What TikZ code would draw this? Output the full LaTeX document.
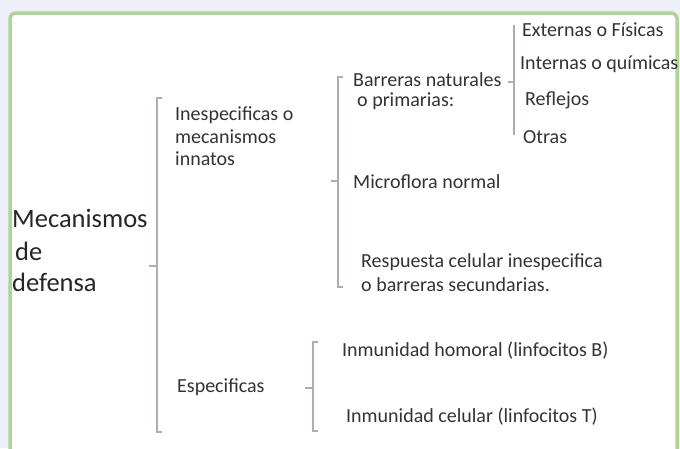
\documentclass[tikz,border=0pt]{standalone}
\usepackage{fontspec}
\setmainfont{Carlito}
\definecolor{bgl}{HTML}{EEF0F9}
\definecolor{grn}{HTML}{AED596}
\definecolor{txt}{HTML}{333333}
\definecolor{brkc}{HTML}{A8AFB8}
\begin{document}
\begin{tikzpicture}[x=1pt,y=-1pt,
  lbl/.style={anchor=west,inner sep=0pt,text=txt,font=\fontsize{20}{23}\selectfont,align=left},
  big/.style={anchor=west,inner sep=0pt,text=black!85,font=\fontsize{26.5}{32}\selectfont,align=left},
  brk/.style={draw=brkc,line width=1.2pt}]
\useasboundingbox (0,0) rectangle (680,448);
\fill[bgl] (0,0) rectangle (680,448);
\fill[white,rounded corners=6pt] (10,13) rectangle (677,452);
\draw[grn,line width=3.5pt,rounded corners=6pt] (10,452) -- (10,13) -- (677,13) -- (677,452);

% texts
\node[big] (mec) at (12,218) {Mecanismos};
\node[big] (de) at (15,251) {de};
\node[big] (def) at (12,282) {defensa};

\node[lbl] (ines) at (175,115) {Inespecificas o};
\node[lbl] (ines2) at (175,137) {mecanismos};
\node[lbl] (ines3) at (175,159) {innatos};
\node[lbl] (esp) at (177,387) {Especificas};

\node[lbl] (bar) at (353,80) {Barreras naturales};
\node[lbl] (bar2) at (357,101) {o primarias:};
\node[lbl] (mic) at (353,182) {Microflora normal};
\node[lbl] (res) at (361,262) {Respuesta celular inespecifica};
\node[lbl] (res2) at (361,285) {o barreras secundarias.};

\node[lbl] (ext) at (522,30) {Externas o Físicas};
\node[lbl] (int) at (520,64) {Internas o químicas};
\node[lbl] (ref) at (525,100) {Reflejos};
\node[lbl] (otr) at (523,137) {Otras};

\node[lbl] (hum) at (342,351) {Inmunidad homoral (linfocitos B)};
\node[lbl] (cel) at (346,417) {Inmunidad celular (linfocitos T)};

% brackets
\draw[brk] (162,98) -- (157,98) -- (157,432) -- (162,432);
\draw[brk] (149,266) -- (157,266);
\draw[brk] (343,77) -- (338,77) -- (338,287) -- (343,287);
\draw[brk] (331,181) -- (338,181);
\draw[brk] (318,342) -- (313,342) -- (313,431) -- (318,431);
\draw[brk] (305,388) -- (313,388);
\draw[brk] (514,25) -- (514,135);
\draw[brk] (508,82) -- (514,82);
\end{tikzpicture}
\end{document}
